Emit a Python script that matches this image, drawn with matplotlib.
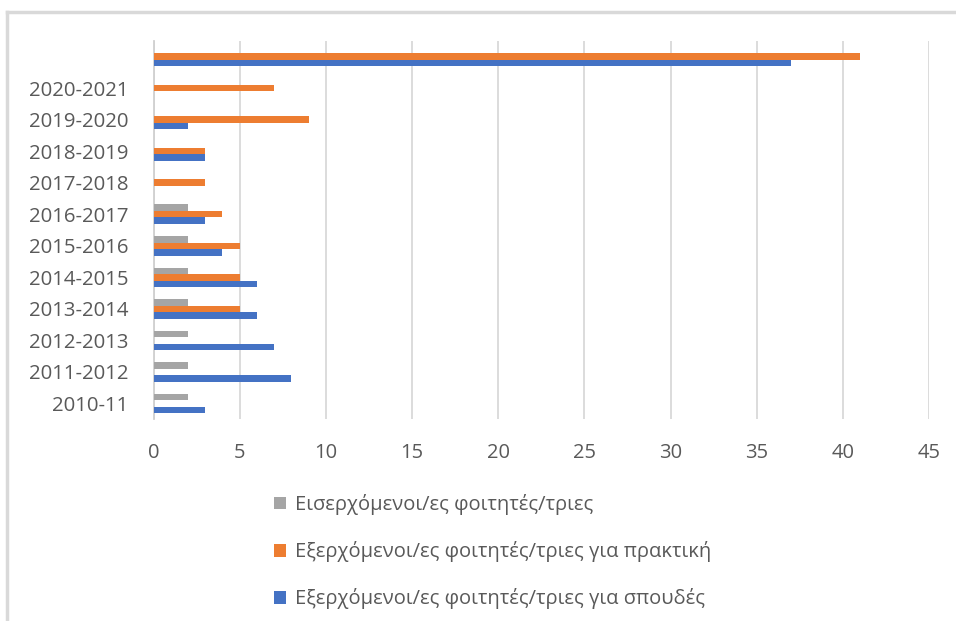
import matplotlib.pyplot as plt
from matplotlib.lines import Line2D
import numpy as np

plt.rcParams['font.family'] = ['Open Sans', 'DejaVu Sans']

years = ['2010-11', '2011-2012', '2012-2013', '2013-2014', '2014-2015',
         '2015-2016', '2016-2017', '2017-2018', '2018-2019', '2019-2020',
         '2020-2021', '']
incoming = [2, 2, 2, 2, 2, 2, 2, 0, 0, 0, 0, 0]
outgoingPractice = [0, 0, 0, 5, 5, 5, 4, 3, 3, 9, 7, 41]
outgoingStudies = [3, 8, 7, 6, 6, 4, 3, 0, 3, 2, 0, 37]

labels = ['Εισερχόμενοι/ες φοιτητές/τριες',
          'Εξερχόμενοι/ες φοιτητές/τριες για πρακτική',
          'Εξερχόμενοι/ες φοιτητές/τριες για σπουδές']
colors = ['#A5A5A5', '#ED7D31', '#4472C4']

fig = plt.figure(figsize=(9.56, 6.21), dpi=100)
ax = fig.add_axes([153.5 / 956, 1 - 419.3 / 621, (929 - 153.5) / 956, (419.3 - 40.7) / 621])

y = np.arange(len(years))
h = 0.206
ax.barh(y + h, incoming, height=h, color=colors[0], label=labels[0], zorder=3)
ax.barh(y, outgoingPractice, height=h, color=colors[1], label=labels[1], zorder=3)
ax.barh(y - h, outgoingStudies, height=h, color=colors[2], label=labels[2], zorder=3)

ax.set_ylim(-0.5, len(years) - 0.5)
ax.set_xlim(0, 45)
ax.set_xticks(range(0, 46, 5))
ax.set_yticks(y)
ax.set_yticklabels(years)
ax.grid(axis='x', color='#D9D9D9', linewidth=1.3, zorder=0)
for s in ['top', 'right', 'bottom']:
    ax.spines[s].set_visible(False)
ax.spines['left'].set_color('#D0D0D0')
ax.spines['left'].set_linewidth(1.3)
ax.tick_params(axis='y', length=0, pad=18, labelsize=14.7, labelcolor='#595959')
ax.tick_params(axis='x', length=0, pad=17, labelsize=14.5, labelcolor='#595959')

handles, labs = ax.get_legend_handles_labels()
leg = fig.legend(handles, labs, loc='upper left', bbox_to_anchor=(256 / 956, 1 - 476 / 621),
                 frameon=False, fontsize=14.5, labelcolor='#595959', labelspacing=1.3,
                 handlelength=0.6, handleheight=0.6, handletextpad=0.45)

# outer chart border
fig.add_artist(Line2D([7 / 956, 1], [1 - 12 / 621, 1 - 12 / 621], color='#D9D9D9', linewidth=2.5))
fig.add_artist(Line2D([7 / 956, 7 / 956], [0, 1 - 12 / 621], color='#D9D9D9', linewidth=2.5))

fig.savefig('out.png', dpi=100)
